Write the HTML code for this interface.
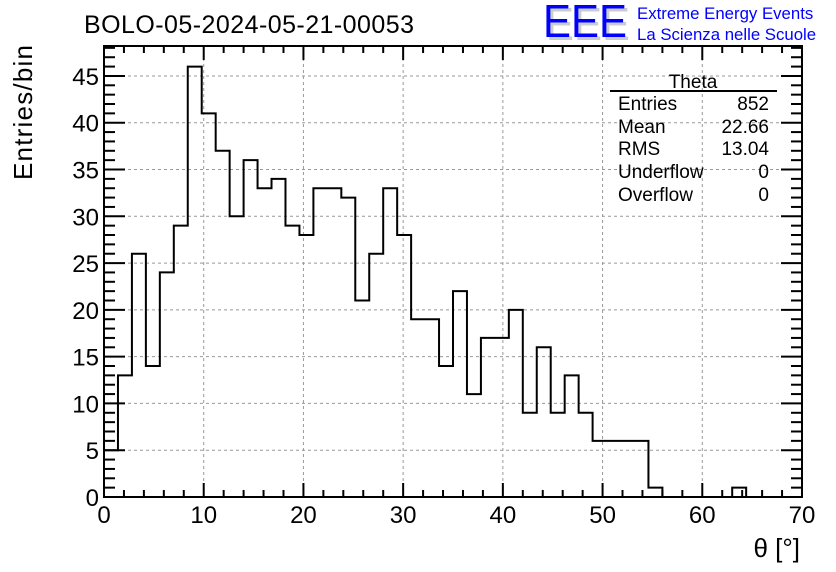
<!DOCTYPE html>
<html><head><meta charset="utf-8"><style>
html,body{margin:0;padding:0;background:#fff;}
svg{display:block;font-family:"Liberation Sans",Arial,sans-serif;}
</style></head><body>
<svg id="c" width="836" height="572" viewBox="0 0 836 572">
<rect x="0" y="0" width="836" height="572" fill="#fff"/>
<text x="84" y="33" font-size="25" textLength="330">BOLO-05-2024-05-21-00053</text>
<g>
<text x="546" y="40" font-size="46" fill="#ccc" textLength="84" lengthAdjust="spacingAndGlyphs">EEE</text>
<text x="543" y="37" font-size="46" fill="#0000ff" textLength="84" lengthAdjust="spacingAndGlyphs">EEE</text>
<text x="637" y="19" font-size="16.8" fill="#0000ff">Extreme Energy Events</text>
<text x="637" y="40" font-size="16.8" fill="#0000ff">La Scienza nelle Scuole</text>
</g>
<g id="grid"></g>
<g id="ticks"></g>
<path id="hist" fill="none" stroke="#000" stroke-width="2"/>
<rect x="104" y="46" width="698" height="451" fill="none" stroke="#000" stroke-width="2"/>
<g id="xlab" font-size="24" text-anchor="middle"></g>
<g id="ylab" font-size="24" text-anchor="end"></g>
<text x="800" y="557" font-size="26" text-anchor="end">θ [°]</text>
<text transform="translate(32,180) rotate(-90)" font-size="26" textLength="135">Entries/bin</text>
<g font-size="19">
<text x="693" y="88" text-anchor="middle">Theta</text>
<line x1="610" y1="91" x2="777" y2="91" stroke="#000" stroke-width="2"/>
<text x="618" y="110">Entries</text><text x="769" y="110" text-anchor="end">852</text>
<text x="618" y="133">Mean</text><text x="769" y="133" text-anchor="end">22.66</text>
<text x="618" y="155">RMS</text><text x="769" y="155" text-anchor="end">13.04</text>
<text x="618" y="178">Underflow</text><text x="769" y="178" text-anchor="end">0</text>
<text x="618" y="201">Overflow</text><text x="769" y="201" text-anchor="end">0</text>
</g>
</svg>
<script>
const counts = [5,13,26,14,24,29,46,41,37,30,36,33,34,29,28,33,33,32,21,26,33,28,19,19,14,22,11,17,17,20,9,16,9,13,9,6,6,6,6,1,0,0,0,0,0,1,0,0,0,0];
const binWidth = 1.4;
const xTicks = [0,10,20,30,40,50,60,70];
const yTicks = [0,5,10,15,20,25,30,35,40,45];
const X0=104,X1=802,Y0=497,Y1=46,XMAX=70,YMAX=48.2;
const sx=v=>X0+v/XMAX*(X1-X0);
const sy=v=>Y0-v/YMAX*(Y0-Y1);
const NS="http://www.w3.org/2000/svg";
function mk(t,a,p){const e=document.createElementNS(NS,t);for(const k in a)e.setAttribute(k,a[k]);p.appendChild(e);return e;}
const grid=document.getElementById('grid'),ticks=document.getElementById('ticks');
xTicks.forEach(v=>{
  if(v>0&&v<70){const g=mk('line',{x1:sx(v),x2:sx(v),y1:Y1,y2:Y0,stroke:'#999','stroke-dasharray':'3,3','stroke-width':1},grid);
  
  }
  const t=mk('text',{x:sx(v),y:523},document.getElementById('xlab'));t.textContent=v;
  
  
});
yTicks.forEach(v=>{
  if(v>0){const g=mk('line',{x1:X0,x2:X1,y1:sy(v),y2:sy(v),stroke:'#999','stroke-dasharray':'3,3','stroke-width':1},grid);
  
  }
  const t=mk('text',{x:99,y:sy(v)+9},document.getElementById('ylab'));t.textContent=v;
  
  
});
for(let v=0;v<=70;v+=2){const L=v%10===0?14:7;
  mk('line',{x1:sx(v),x2:sx(v),y1:Y0,y2:Y0-L,stroke:'#000','stroke-width':2},ticks);
  mk('line',{x1:sx(v),x2:sx(v),y1:Y1,y2:Y1+L,stroke:'#000','stroke-width':2},ticks);}
for(let v=0;v<=48;v++){const L=v%5===0?21:11;
  mk('line',{x1:X0,x2:X0+L,y1:sy(v),y2:sy(v),stroke:'#000','stroke-width':2},ticks);
  mk('line',{x1:X1,x2:X1-L,y1:sy(v),y2:sy(v),stroke:'#000','stroke-width':2},ticks);}
let d='M'+sx(0)+','+sy(0);
counts.forEach((c,i)=>{d+=' L'+sx(i*binWidth)+','+sy(c)+' L'+sx((i+1)*binWidth)+','+sy(c);});
d+=' L'+sx(counts.length*binWidth)+','+sy(0);
document.getElementById('hist').setAttribute('d',d);
</script>
</body></html>
